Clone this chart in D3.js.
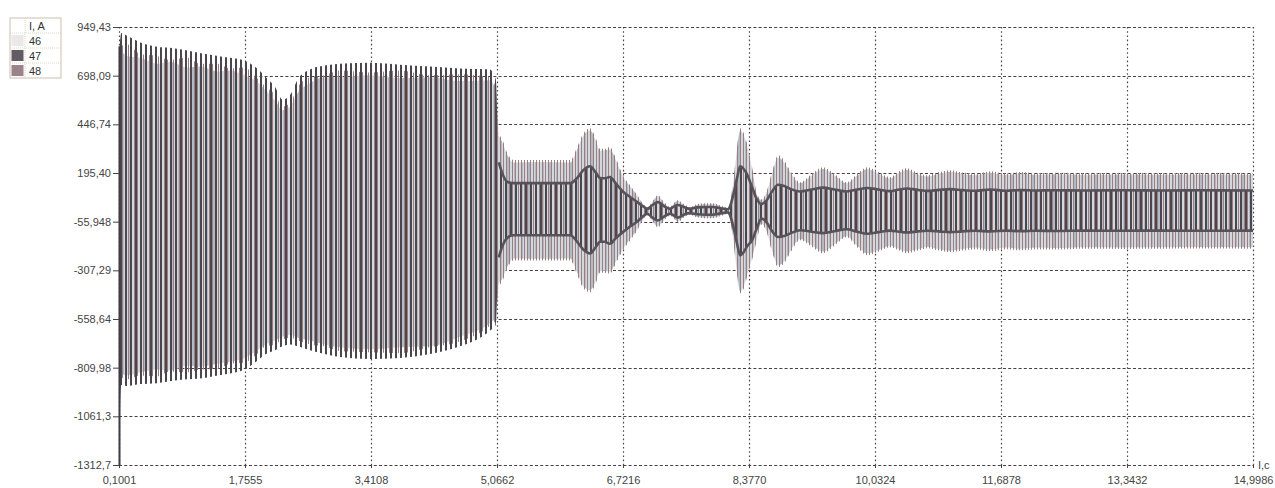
<!DOCTYPE html>
<html><head><meta charset="utf-8">
<script src="https://cdn.jsdelivr.net/npm/d3@7"></script>
<style>
html,body{margin:0;padding:0;background:#fff;}
svg{display:block;font-family:"Liberation Sans",Arial,sans-serif;}
</style></head><body>
<svg id="chart" width="1275" height="488"></svg>
<script>
// Sample times, s
const times = [0.1001,0.115,0.13,0.20,0.38,0.60,0.77,1.00,1.16,1.40,1.56,1.75,1.90,2.03,2.15,2.25,2.35,2.45,2.61,2.80,3.00,3.40,3.79,4.19,4.58,4.97,5.05,
  5.09,5.13,5.20,5.28,5.63,6.03,6.12,6.20,6.29,6.36,6.42,6.48,6.55,6.63,6.72,6.82,6.91,6.98,7.04,7.11,7.18,7.26,7.34,7.39,7.44,7.52,7.60,7.70,7.80,7.90,8.02,8.10,
  8.17,8.22,8.26,8.31,8.35,8.42,8.48,8.54,8.60,8.68,8.76,8.84,8.93,9.05,9.20,9.35,9.50,9.66,9.80,9.93,10.08,10.23,10.35,10.45,10.60,10.72,10.87,11.02,11.18,11.35,
  11.55,11.75,11.95,12.15,12.40,12.80,13.30,13.80,14.30,14.9986];

// Peak envelopes of the phase currents, A
const upper46 = [500,700,820,800,790,760,770,740,745,720,725,700,670,620,570,520,540,610,660,690,690,700,685,690,670,675,620,
  385,360,290,250,252,250,318,388,415,368,310,312,318,260,176,124,76,38,16,46,76,42,18,37,52,32,18,32,36,36,22,13,
  142,318,415,388,338,212,86,56,85,192,276,250,192,142,182,216,182,142,182,216,192,167,197,211,187,177,192,202,190,184,
  197,185,192,186,189,186,187,186,187,186];
const lower46 = [-700,-820,-835,-850,-835,-820,-825,-800,-805,-790,-780,-760,-725,-690,-670,-650,-640,-655,-670,-690,-705,-715,-705,-700,-650,-580,-550,
  -375,-355,-290,-246,-248,-246,-318,-388,-410,-368,-310,-310,-315,-260,-196,-144,-95,-48,-21,-52,-80,-47,-23,-37,-56,-32,-18,-32,-36,-36,-22,-13,
  -142,-318,-415,-388,-332,-240,-145,-66,-95,-202,-281,-260,-202,-146,-178,-210,-173,-131,-182,-221,-202,-180,-197,-210,-197,-185,-197,-206,-197,-190,
  -200,-190,-196,-190,-192,-188,-189,-188,-187,-188];

const upper47 = [850,880,918,905,870,848,842,828,815,800,790,775,740,690,640,575,600,680,730,750,760,765,755,745,735,730,680,
  250,200,150,143,143,143,170,210,230,200,170,168,175,140,100,70,45,25,10,30,45,25,10,22,30,20,10,18,20,20,12,8,
  80,170,230,215,190,120,60,35,50,100,135,128,112,100,110,120,110,100,110,118,110,102,110,115,108,103,108,112,107,104,
  110,104,107,105,106,105,106,105,106,105];
const lower47 = [-1312.7,-1000,-900,-905,-895,-890,-880,-870,-866,-850,-840,-820,-780,-740,-720,-700,-690,-700,-720,-740,-755,-765,-760,-740,-700,-620,-590,
  -240,-190,-140,-126,-126,-126,-160,-200,-220,-190,-160,-160,-170,-140,-110,-80,-55,-30,-15,-35,-50,-30,-15,-24,-35,-20,-12,-18,-20,-20,-12,-8,
  -80,-170,-230,-212,-185,-150,-90,-40,-55,-105,-135,-130,-115,-100,-108,-115,-105,-95,-108,-118,-110,-102,-108,-112,-106,-103,-106,-110,-106,-103,
  -107,-102,-105,-103,-104,-102,-103,-102,-103,-102];

const upper48 = [400,760,850,860,810,800,780,790,760,760,735,740,690,640,600,540,560,640,690,700,725,715,725,700,705,690,640,
  400,375,300,262,262,262,330,400,427,380,320,320,330,270,184,130,81,40,18,50,81,45,20,40,55,35,20,35,39,39,25,15,
  150,330,427,400,349,220,91,60,90,200,287,260,200,148,190,225,190,148,190,225,200,174,205,220,195,184,200,210,198,192,
  205,193,200,194,197,194,195,194,195,194];
const lower48 = [-500,-800,-860,-870,-850,-855,-830,-835,-820,-815,-790,-785,-745,-700,-690,-665,-655,-670,-690,-700,-725,-730,-735,-705,-675,-595,-565,
  -390,-369,-300,-256,-256,-256,-330,-400,-421,-380,-320,-320,-325,-270,-204,-150,-100,-50,-23,-55,-85,-50,-25,-40,-60,-35,-20,-35,-38,-38,-25,-15,
  -150,-330,-426,-400,-344,-250,-152,-70,-100,-210,-292,-270,-210,-152,-185,-219,-180,-137,-190,-230,-210,-188,-205,-219,-205,-193,-205,-214,-205,-198,
  -208,-198,-204,-198,-200,-196,-197,-196,-195,-196];

const seriesNames = ["46","47","48"];
const xTickValues = [0.1001,1.7555,3.4108,5.0662,6.7216,8.3770,10.0324,11.6878,13.3432,14.9986];
const xTickLabels = ["0,1001","1,7555","3,4108","5,0662","6,7216","8,3770","10,0324","11,6878","13,3432","14,9986"];
const yTickValues = [949.43,698.09,446.74,195.40,-55.948,-307.29,-558.64,-809.98,-1061.3,-1312.7];
const yTickLabels = ["949,43","698,09","446,74","195,40","-55,948","-307,29","-558,64","-809,98","-1061,3","-1312,7"];
const yAxisTitle = "I, A";
const xAxisTitle = "t,c";

const svg = d3.select("#chart");
const X0 = 119, X1 = 1253, Y0 = 27, Y1 = 465;
const x = d3.scaleLinear().domain([0.1001, 14.9986]).range([X0, X1]);
const y = d3.scaleLinear().domain([-1312.7, 949.43]).range([Y1, Y0]);

// per-phase drawing style: a light base plus a stripe texture standing in for the dense oscillation
const style = {
  "46": {base: "#d3d7de", fill: "#b3bac5", period: 7, w: 2, off: 3},
  "48": {base: null, fill: "#9a7f7e", period: 3, w: 1, off: 2},
  "47": {base: null, fill: "#4a464d", period: 5, w: 2, off: 0}
};
const env = {
  "46": {up: upper46, lo: lower46},
  "47": {up: upper47, lo: lower47},
  "48": {up: upper48, lo: lower48}
};
// the envelope of phase 47 is traced as a line once the fault is cleared
const edgeFrom = 5.09;

const defs = svg.append("defs");
seriesNames.forEach(n => {
  const s = style[n];
  const p = defs.append("pattern").attr("id", "stripe" + n)
    .attr("patternUnits", "userSpaceOnUse")
    .attr("x", 0).attr("y", 0)
    .attr("width", s.period).attr("height", 4);
  if (s.base) p.append("rect").attr("width", s.period).attr("height", 4).attr("fill", s.base);
  p.append("rect").attr("x", s.off).attr("y", 0)
    .attr("width", s.w).attr("height", 4).attr("fill", s.fill)
    .attr("shape-rendering", "crispEdges");
});

// grid
const grid = svg.append("g");
grid.selectAll("line.h").data(yTickValues).join("line")
  .attr("x1", X0).attr("x2", X1)
  .attr("y1", d => Math.round(y(d)) + 0.5).attr("y2", d => Math.round(y(d)) + 0.5)
  .attr("stroke", "#4a3f40").attr("stroke-width", 1.1).attr("stroke-dasharray", "3,2.2");
grid.selectAll("line.v").data(xTickValues).join("line")
  .attr("x1", d => Math.round(x(d)) + 0.5).attr("x2", d => Math.round(x(d)) + 0.5)
  .attr("y1", Y0).attr("y2", Y1 + 3)
  .attr("stroke", "#4a4648").attr("stroke-width", 1.2).attr("stroke-dasharray", "1.6,2.6");

// signal bands
const plot = svg.append("g");
const order = ["46", "48", "47"];
const rowsOf = n => times.map((t, i) => ({t, up: env[n].up[i], lo: env[n].lo[i]}));
order.forEach(n => {
  const area = d3.area().curve(d3.curveMonotoneX)
    .x(d => x(d.t)).y0(d => y(d.lo)).y1(d => y(d.up));
  plot.append("path").datum(rowsOf(n)).attr("d", area)
    .attr("fill", "url(#stripe" + n + ")");
});
// initial transient sample of phase 47
plot.append("line")
  .attr("x1", x(times[0]) + 0.5).attr("x2", x(times[0]) + 0.5)
  .attr("y1", y(upper47[0])).attr("y2", y(lower47[0]))
  .attr("stroke", "#3f3b42").attr("stroke-width", 2);
// dense peaks of phase 47 read as a line
["up", "lo"].forEach(k => {
  const line = d3.line().curve(d3.curveMonotoneX).x(d => x(d.t)).y(d => y(d[k]));
  plot.append("path").datum(rowsOf("47").filter(d => d.t >= edgeFrom)).attr("d", line)
    .attr("fill", "none").attr("stroke", "#57525a").attr("stroke-width", 2.6);
});

// axes
const yAxis = d3.axisLeft(y).tickValues(yTickValues)
  .tickFormat((d, i) => yTickLabels[i]).tickSize(6).tickPadding(2);
const gy = svg.append("g").attr("transform", `translate(${X0},0)`).call(yAxis);
gy.select(".domain").remove();
gy.selectAll(".tick line").attr("stroke", "#444");
gy.selectAll(".tick text").attr("fill", "#444").style("font-size", "11px");

const xAxis = d3.axisBottom(x).tickValues(xTickValues)
  .tickFormat((d, i) => xTickLabels[i]).tickSize(3).tickPadding(8);
const gx = svg.append("g").attr("transform", `translate(0,${Y1})`).call(xAxis);
gx.select(".domain").remove();
gx.selectAll(".tick line").attr("stroke", "#444");
gx.selectAll(".tick text").attr("fill", "#444").style("font-size", "11px");

svg.append("text").attr("x", X1 + 5).attr("y", Y1 + 4)
  .attr("fill", "#444").style("font-size", "11px").text("I,c");

// legend
const lg = svg.append("g").attr("transform", "translate(10,18)");
const rowH = 15, colW = 15, lgW = 51;
lg.append("rect").attr("width", lgW).attr("height", rowH * 4)
  .attr("fill", "#fff").attr("stroke", "#cbbfae");
[1, 2, 3].forEach(i => lg.append("line").attr("x1", 0).attr("x2", lgW)
  .attr("y1", i * rowH).attr("y2", i * rowH)
  .attr("stroke", "#ddd4c8").attr("stroke-dasharray", "1,1"));
lg.append("line").attr("x1", colW).attr("x2", colW).attr("y1", 0).attr("y2", rowH * 4)
  .attr("stroke", "#ddd4c8").attr("stroke-dasharray", "1,1");
const legendSwatch = {"46": "#ece8e8", "47": "#635b63", "48": "#9a8389"};
lg.append("text").attr("x", colW + 4).attr("y", rowH * 0.5 + 4)
  .attr("fill", "#333").style("font-size", "11px").text(yAxisTitle);
seriesNames.forEach((n, i) => {
  const r = i + 1;
  lg.append("rect").attr("x", 1.5).attr("y", r * rowH + 2).attr("width", colW - 3).attr("height", rowH - 4)
    .attr("fill", legendSwatch[n]);
  lg.append("text").attr("x", colW + 4).attr("y", r * rowH + rowH * 0.5 + 4)
    .attr("fill", "#333").style("font-size", "11px").text(n);
});
</script>
</body></html>
